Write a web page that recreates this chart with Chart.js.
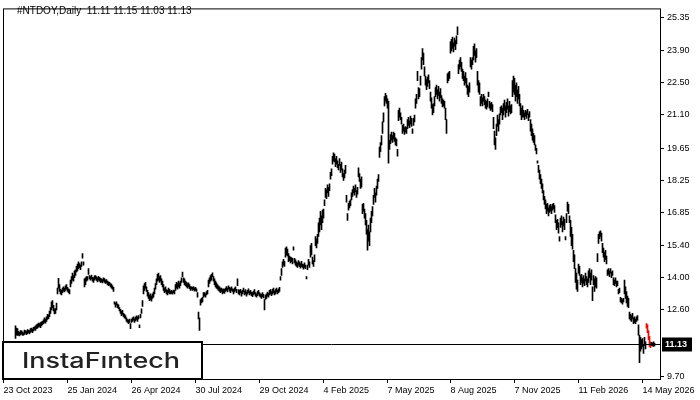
<!DOCTYPE html>
<html>
<head>
<meta charset="utf-8">
<script src="https://cdn.jsdelivr.net/npm/chart.js@4.4.1/dist/chart.umd.min.js"></script>
<style>
  html, body { margin: 0; padding: 0; background: #fff; }
</style>
</head>
<body>
<canvas id="chart" width="700" height="400"></canvas>
<script>
// daily bars of #NTDOY (low / high of each bar)
const symbol = '#NTDOY,Daily';
const lastBar = { open: 11.11, high: 11.15, low: 11.03, close: 11.13 };

const dateLabels = ['23 Oct 2023', '25 Jan 2024', '26 Apr 2024', '30 Jul 2024', '29 Oct 2024',
  '4 Feb 2025', '7 May 2025', '8 Aug 2025', '7 Nov 2025', '11 Feb 2026', '14 May 2026'];
const dateSlots = [0, 64, 128, 192, 256, 320, 384, 447, 511, 575, 639];

const priceTicks = [25.35, 23.90, 22.50, 21.10, 19.65, 18.25, 16.85, 15.40, 14.00, 12.60, 9.70];

const lows = [
  11.35,11.50,11.48,11.50,11.46,11.52,11.55,11.48,11.50,11.53,
  11.58,11.52,11.56,11.60,11.55,11.62,11.66,11.60,11.68,11.72,
  11.70,11.78,11.80,11.84,11.88,11.82,11.90,11.95,12.00,12.05,
  12.02,12.10,12.18,12.22,12.30,12.45,12.60,12.70,12.55,12.42,
  12.45,12.60,13.30,13.55,13.40,13.30,13.25,13.35,13.42,13.38,
  13.45,13.50,13.40,13.35,13.30,13.60,13.75,13.90,13.85,14.00,
  14.10,14.25,14.30,14.40,14.45,14.35,14.50,14.85,14.55,13.60,
  13.70,13.85,13.90,14.15,13.95,13.90,13.95,13.85,13.80,13.90,
  13.95,13.88,13.82,13.90,13.85,13.80,13.82,13.78,13.85,13.80,
  13.75,13.78,13.70,13.65,13.68,13.60,13.55,13.50,13.40,12.85,
  12.72,12.80,12.70,12.65,12.55,12.45,12.35,12.40,12.30,12.25,
  12.20,12.10,12.05,12.00,12.05,11.78,12.05,12.10,12.15,12.05,
  12.12,12.18,12.10,12.20,11.82,12.25,12.45,12.75,13.30,13.45,
  13.55,13.40,13.20,13.10,13.00,13.05,12.98,13.10,13.15,13.30,
  13.50,13.70,13.85,13.90,13.80,13.85,13.70,13.60,13.45,13.35,
  13.40,13.30,13.25,13.35,13.30,13.30,13.32,13.28,13.35,13.30,
  13.45,13.55,13.50,13.60,13.55,13.65,13.80,14.05,13.80,13.70,
  13.65,13.60,13.55,13.60,13.52,13.45,13.50,13.45,13.48,13.42,
  13.45,13.40,13.15,12.20,11.70,12.80,12.90,12.95,13.15,13.20,
  13.15,13.25,13.30,13.60,13.75,13.85,13.90,14.05,13.85,13.70,
  13.60,13.55,13.50,13.45,13.40,13.35,13.40,13.30,13.35,13.32,
  13.40,13.45,13.38,13.50,13.42,13.35,13.45,13.40,13.30,13.38,
  13.45,13.35,13.65,13.30,13.25,13.35,13.20,13.30,13.38,13.25,
  13.30,13.20,13.28,13.35,13.25,13.30,13.22,13.18,13.25,13.30,
  13.20,13.15,13.22,13.28,13.20,13.15,13.10,13.18,13.12,12.60,
  13.05,13.10,13.20,13.15,13.25,13.30,13.22,13.28,13.35,13.25,
  13.30,13.38,13.30,13.35,13.40,13.90,14.10,14.45,14.55,14.50,
  14.90,15.00,14.95,14.70,14.75,14.65,14.70,14.60,15.20,14.65,
  14.55,14.50,14.45,14.55,14.48,14.42,14.50,14.45,14.38,14.45,
  14.40,13.95,14.35,14.55,14.45,14.90,15.00,14.60,14.50,14.70,
  15.40,15.30,15.50,15.80,16.00,16.30,16.10,16.40,16.60,17.15,
  17.50,17.45,17.70,17.55,17.80,18.30,18.45,18.95,19.10,19.05,
  18.85,18.95,18.80,18.70,18.90,18.60,18.70,18.40,18.25,18.35,
  18.55,17.30,16.50,16.95,17.05,17.15,17.40,17.55,17.70,17.60,
  17.75,17.50,17.65,18.40,18.20,17.90,17.95,16.80,16.90,16.60,
  16.30,15.90,15.20,15.60,15.40,16.00,16.40,16.70,17.20,17.50,
  17.30,17.60,17.90,18.20,19.25,19.50,19.80,20.30,20.80,21.50,
  21.70,21.60,21.40,19.00,19.60,19.85,20.00,19.90,20.05,19.95,
  19.80,19.75,19.30,20.85,21.00,20.90,20.70,20.30,20.40,20.25,
  20.35,20.30,20.50,20.65,20.55,20.70,20.60,20.30,20.65,20.80,
  21.40,21.60,22.60,21.80,21.90,22.40,23.10,23.50,23.30,22.80,
  22.40,22.20,22.35,22.50,22.25,21.70,21.40,21.10,21.20,21.50,
  21.90,22.00,21.80,21.95,21.70,21.85,21.60,21.45,21.50,21.40,
  20.90,20.30,22.50,22.60,22.70,23.80,23.90,24.00,23.85,24.10,
  23.95,24.20,24.60,22.90,23.10,23.20,23.00,22.70,22.60,22.40,
  22.50,22.30,22.00,21.90,22.10,23.20,23.10,23.30,23.50,23.70,
  23.40,23.60,22.40,22.10,22.00,21.50,21.60,21.50,21.70,21.55,
  21.40,21.35,21.45,21.90,21.40,21.30,21.35,21.25,20.50,19.80,
  19.60,20.20,20.60,20.40,20.70,21.10,21.20,20.90,21.10,21.30,
  21.00,21.20,21.35,21.05,21.25,21.15,21.20,21.90,22.10,22.00,
  21.70,21.90,21.60,21.80,21.50,21.10,20.90,21.00,21.00,20.90,
  21.05,20.95,21.10,20.85,21.00,20.40,20.20,20.00,19.90,19.80,
  19.55,19.40,19.00,18.60,18.30,18.10,17.90,17.70,17.40,17.20,
  17.00,16.80,16.90,16.70,16.85,16.90,16.80,16.95,17.00,16.85,
  16.40,16.10,16.20,15.95,15.60,16.20,16.30,16.00,16.25,16.10,
  15.65,16.40,16.90,16.80,16.40,15.80,15.40,15.25,14.70,14.40,
  13.80,13.50,13.40,14.20,14.10,13.70,13.80,13.60,13.75,13.65,
  13.85,13.70,13.60,13.80,14.00,13.70,13.90,13.00,13.70,13.40,
  13.60,13.55,14.70,15.50,15.70,15.80,15.60,15.10,14.90,14.70,
  14.80,14.60,14.10,14.15,14.05,14.20,14.00,14.10,13.70,13.65,
  13.75,13.60,13.65,13.30,13.35,12.95,12.90,12.85,12.95,13.30,
  13.10,12.90,12.75,12.70,12.20,12.15,12.10,12.20,12.00,12.05,
  12.00,12.10,12.15,11.50,10.30,10.80,10.90,11.00,10.70,11.05,
  10.90,11.80,11.60,11.30,11.00,10.95,11.05,11.03,11.00,11.03
];

const highs = [
  11.90,11.80,11.78,11.66,11.62,11.70,11.68,11.64,11.60,11.72,
  11.70,11.66,11.74,11.72,11.70,11.78,11.80,11.76,11.84,11.86,
  11.90,11.95,11.98,12.02,12.00,12.05,12.08,12.10,12.16,12.25,
  12.20,12.30,12.40,12.38,12.55,12.70,12.95,13.00,12.80,12.64,
  12.66,12.90,13.55,13.98,13.70,13.50,13.45,13.55,13.60,13.55,
  13.65,13.70,13.58,13.52,13.48,13.90,14.05,14.20,14.10,14.30,
  14.35,14.50,14.60,14.70,14.62,14.55,14.70,15.05,14.70,13.95,
  14.00,14.05,14.05,14.40,14.10,14.05,14.12,14.02,14.00,14.08,
  14.10,14.04,14.00,14.06,14.02,13.98,13.95,13.92,14.00,13.96,
  13.90,13.92,13.85,13.82,13.80,13.75,13.72,13.65,13.58,12.95,
  12.90,12.95,12.85,12.82,12.70,12.62,12.55,12.58,12.45,12.40,
  12.35,12.25,12.18,12.15,12.20,12.00,12.20,12.25,12.30,12.22,
  12.28,12.34,12.30,12.35,11.95,12.40,12.65,13.00,13.65,13.75,
  13.80,13.60,13.45,13.35,13.25,13.30,13.20,13.30,13.38,13.55,
  13.75,13.95,14.15,14.20,14.05,14.10,13.95,13.85,13.70,13.55,
  13.60,13.48,13.45,13.55,13.50,13.42,13.45,13.40,13.46,13.44,
  13.70,13.80,13.75,13.85,13.78,13.85,14.00,14.25,14.00,13.95,
  13.85,13.80,13.75,13.78,13.70,13.62,13.60,13.58,13.62,13.55,
  13.58,13.52,13.35,12.50,12.25,13.05,13.10,13.15,13.35,13.35,
  13.30,13.40,13.45,13.90,14.00,14.10,14.15,14.22,14.05,13.95,
  13.85,13.78,13.70,13.65,13.60,13.55,13.55,13.48,13.52,13.50,
  13.55,13.62,13.55,13.65,13.58,13.55,13.60,13.52,13.48,13.55,
  13.60,13.50,13.95,13.48,13.45,13.50,13.40,13.45,13.55,13.42,
  13.48,13.38,13.45,13.52,13.40,13.45,13.38,13.35,13.42,13.48,
  13.35,13.30,13.40,13.45,13.35,13.30,13.28,13.35,13.28,13.05,
  13.25,13.30,13.38,13.32,13.45,13.48,13.40,13.50,13.55,13.42,
  13.48,13.55,13.45,13.52,13.58,14.05,14.40,14.70,14.80,14.72,
  15.30,15.35,15.25,15.05,14.95,14.90,14.88,14.85,15.35,14.85,
  14.78,14.70,14.65,14.75,14.68,14.62,14.72,14.60,14.58,14.65,
  14.55,14.05,14.55,14.80,14.70,15.40,15.50,14.90,14.75,15.00,
  15.80,15.70,15.90,16.40,16.60,16.90,16.70,16.95,17.00,17.40,
  17.90,17.85,18.05,17.95,18.10,18.60,18.75,19.30,19.45,19.40,
  19.20,19.30,19.10,18.95,19.20,18.95,19.05,18.75,18.55,18.70,
  18.90,17.60,16.80,17.25,17.35,17.40,17.70,17.85,18.00,17.90,
  18.05,17.80,17.95,18.80,18.55,18.30,18.40,17.20,17.25,17.00,
  16.80,16.50,16.10,16.30,16.00,16.60,16.90,17.10,17.60,17.90,
  17.70,18.00,18.30,18.50,19.70,19.90,20.20,20.80,21.20,21.90,
  22.05,21.95,21.80,21.70,20.00,20.25,20.35,20.20,20.35,20.30,
  20.10,20.05,19.60,21.30,21.40,21.20,21.00,20.65,20.70,20.55,
  20.60,20.55,20.90,21.00,20.85,21.05,20.95,20.50,20.95,21.10,
  21.80,22.00,23.00,22.30,22.25,22.80,23.60,24.00,23.80,23.20,
  22.80,22.65,22.75,22.85,22.60,22.10,21.85,21.55,21.60,21.90,
  22.30,22.40,22.20,22.35,22.10,22.25,21.95,21.80,21.75,21.70,
  21.40,20.90,22.90,22.95,23.00,24.30,24.40,24.50,24.25,24.45,
  24.35,24.55,24.95,23.30,23.50,23.60,23.40,23.10,23.00,22.80,
  22.95,22.70,22.40,22.35,22.50,23.60,23.50,23.60,24.10,24.20,
  23.90,24.00,23.00,22.60,22.50,21.90,22.00,21.85,22.00,21.90,
  21.75,21.70,21.80,22.10,21.70,21.60,21.65,21.55,21.00,20.40,
  20.10,20.70,21.10,20.90,21.15,21.45,21.50,21.40,21.60,21.75,
  21.50,21.65,21.80,21.50,21.70,21.50,21.55,22.60,22.80,22.70,
  22.40,22.50,22.20,22.35,22.00,21.60,21.40,21.50,21.30,21.20,
  21.30,21.25,21.35,21.15,21.25,20.90,20.70,20.50,20.30,20.20,
  19.80,19.65,19.10,18.90,18.70,18.50,18.30,18.10,17.80,17.55,
  17.40,17.20,17.25,17.05,17.15,17.20,17.10,17.20,17.25,17.15,
  16.75,16.50,16.55,16.40,15.80,16.60,16.70,16.45,16.65,16.55,
  15.80,16.80,17.30,17.20,16.70,16.50,16.20,15.90,15.20,15.00,
  14.40,14.20,13.90,14.60,14.50,14.10,14.15,14.00,14.10,13.95,
  14.20,14.05,13.95,14.30,14.40,14.20,14.35,13.60,14.10,13.95,
  14.05,14.00,15.05,15.90,16.00,16.05,15.95,15.50,15.30,15.10,
  15.20,14.95,14.35,14.40,14.30,14.40,14.25,14.30,14.00,13.90,
  14.00,13.85,13.85,13.50,13.55,13.15,13.10,13.05,13.10,13.90,
  13.60,13.40,13.20,13.10,12.50,12.40,12.35,12.45,12.25,12.30,
  12.20,12.30,12.35,11.95,11.50,11.40,11.30,11.35,11.10,11.40,
  11.20,12.00,11.95,11.70,11.45,11.20,11.18,11.15,11.20,11.15
];

// bars of the highlighted pattern (drawn red)
const patternBars = [631, 632, 633, 634, 635];

// empty category slots before the first bar and after the last one
const leadSlots = 12;
const tailSlots = 5;

const slotCount = leadSlots + lows.length + tailSlots;
const categories = [];
const ranges = [];
const colors = [];
for (let i = 0; i < slotCount; i++) {
  const k = dateSlots.indexOf(i);
  categories.push(k >= 0 ? dateLabels[k] : '');
  const b = i - leadSlots;
  ranges.push(b >= 0 && b < lows.length ? [lows[b], highs[b]] : null);
  colors.push(patternBars.includes(b) ? '#ff0000' : '#000000');
}

const axisFont = { family: '"Liberation Sans", Arial, sans-serif', size: 9 };

const overlay = {
  id: 'overlay',
  afterDraw(chart) {
    const ctx = chart.ctx;
    const area = chart.chartArea;
    const y = chart.scales.y;
    ctx.save();

    // current price line
    const py = Math.round(y.getPixelForValue(lastBar.close)) + 0.5;
    ctx.strokeStyle = '#000';
    ctx.lineWidth = 1;
    ctx.beginPath();
    ctx.moveTo(area.left, py);
    ctx.lineTo(area.right, py);
    ctx.stroke();

    // frame
    ctx.strokeRect(area.left + 0.5, area.top + 0.5, area.right - area.left, area.bottom - area.top);

    // price label
    ctx.fillStyle = '#000';
    ctx.fillRect(area.right + 2, py - 7, 30, 14);
    ctx.fillStyle = '#fff';
    ctx.font = 'bold 9px "Liberation Sans", Arial, sans-serif';
    ctx.textBaseline = 'middle';
    ctx.textAlign = 'left';
    ctx.fillText(lastBar.close.toFixed(2), area.right + 5, py);

    // header
    ctx.fillStyle = '#000';
    ctx.font = '10px "Liberation Sans", Arial, sans-serif';
    const ohlc = [lastBar.open, lastBar.high, lastBar.low, lastBar.close].map(v => v.toFixed(2)).join(' ');
    ctx.fillText(symbol + '  ' + ohlc, 17, 11);

    // logo box
    ctx.fillStyle = '#fff';
    ctx.fillRect(3, 342, 199, 37);
    ctx.lineWidth = 2;
    ctx.strokeStyle = '#000';
    ctx.strokeRect(3, 342, 199, 37);
    ctx.fillStyle = '#222';
    ctx.font = '500 21px Inter, sans-serif';
    ctx.textBaseline = 'alphabetic';
    const word = 'InstaF\u0131ntech';
    const w = ctx.measureText(word).width;
    ctx.translate(22, 368);
    ctx.scale(158 / w, 1);
    ctx.fillText(word, 0, 0);
    ctx.restore();
  }
};

new Chart(document.getElementById('chart'), {
  type: 'bar',
  data: {
    labels: categories,
    datasets: [{
      data: ranges,
      backgroundColor: colors,
      barThickness: 1,
      borderWidth: 0,
      borderSkipped: false
    }]
  },
  options: {
    responsive: false,
    animation: false,
    devicePixelRatio: 1,
    events: [],
    layout: { padding: { left: 3, top: 3, right: 0, bottom: 0 } },
    plugins: {
      legend: { display: false },
      tooltip: { enabled: false }
    },
    scales: {
      x: {
        offset: true,
        grid: { offset: false, drawOnChartArea: false, drawTicks: true, tickLength: 4, color: '#000' },
        border: { display: false },
        ticks: { autoSkip: false, maxRotation: 0, align: 'start', padding: 2, color: '#000', font: axisFont },
        afterBuildTicks: s => { s.ticks = s.ticks.filter(t => categories[t.value] !== ''); },
        afterFit: s => { s.height = 21; }
      },
      y: {
        position: 'right',
        min: 9.584,
        max: 25.75,
        grid: { drawOnChartArea: false, drawTicks: true, tickLength: 4, color: '#000' },
        border: { display: false },
        ticks: { padding: 3, color: '#000', font: axisFont, callback: v => v.toFixed(2) },
        afterBuildTicks: s => { s.ticks = priceTicks.map(v => ({ value: v })); },
        afterFit: s => { s.width = 40; }
      }
    }
  },
  plugins: [overlay]
});
</script>
</body>
</html>
